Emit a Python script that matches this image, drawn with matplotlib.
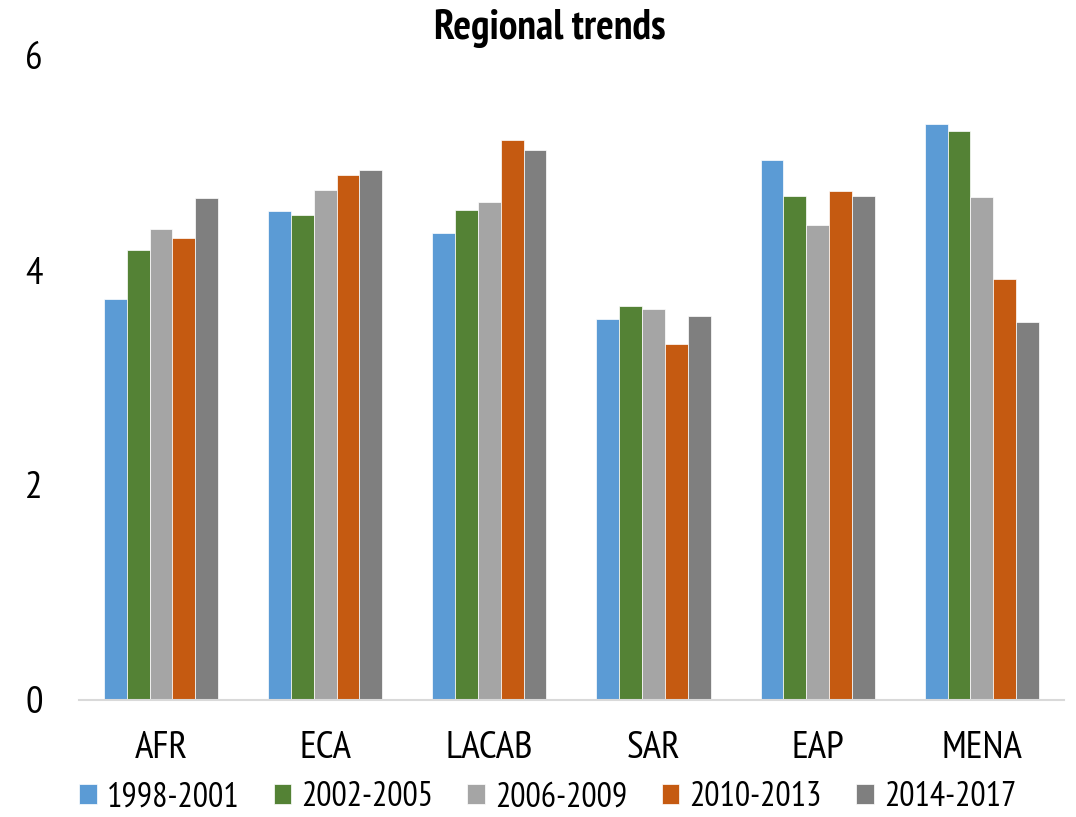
import numpy as np
import matplotlib.pyplot as plt

# Regional averages by period
regions = ["AFR", "ECA", "LACAB", "SAR", "EAP", "MENA"]
periods = ["1998-2001", "2002-2005", "2006-2009", "2010-2013", "2014-2017"]

v1998_2001 = [3.73, 4.55, 4.35, 3.55, 5.03, 5.36]
v2002_2005 = [4.19, 4.51, 4.56, 3.67, 4.69, 5.30]
v2006_2009 = [4.38, 4.75, 4.64, 3.64, 4.42, 4.68]
v2010_2013 = [4.30, 4.89, 5.21, 3.31, 4.74, 3.92]
v2014_2017 = [4.67, 4.93, 5.12, 3.57, 4.69, 3.52]

series = [v1998_2001, v2002_2005, v2006_2009, v2010_2013, v2014_2017]
colors = ["#5B9BD5", "#548235", "#A5A5A5", "#C55A11", "#7F7F7F"]

plt.rcParams['font.family'] = ['PT Sans Narrow', 'DejaVu Sans']

fig = plt.figure(figsize=(10.76, 8.17), dpi=100)
ax = fig.add_axes([0.0734, 0.1438, 0.9154, 0.7882])

x = np.arange(len(regions))
w = 0.139
for i, (vals, c, lab) in enumerate(zip(series, colors, periods)):
    ax.bar(x + (i - 2) * w, vals, width=w, color=c, label=lab,
           edgecolor='white', linewidth=0.5)

ax.set_xlim(-0.5, len(regions) - 0.5)
ax.set_ylim(0, 6)
ax.set_yticks([0, 2, 4, 6])
ax.set_xticks(x)
ax.set_xticklabels(regions)
ax.tick_params(axis='y', length=0, labelsize=28, pad=26)
ax.tick_params(axis='x', length=0, labelsize=28, pad=23)

for s in ['top', 'right', 'left']:
    ax.spines[s].set_visible(False)
ax.spines['bottom'].set_color('#D9D9D9')
ax.spines['bottom'].set_linewidth(1.5)

fig.text(0.511, 0.952, "Regional trends", ha='center', va='baseline',
         fontsize=30, fontweight='bold')

ax.legend(loc='center left', bbox_to_anchor=(0.0, -0.152), ncol=5,
          frameon=False, fontsize=24.5, handlelength=0.52, handleheight=0.52,
          handletextpad=0.3, columnspacing=1.0, borderaxespad=0,
          borderpad=0)

fig.savefig("out.png", dpi=100)
